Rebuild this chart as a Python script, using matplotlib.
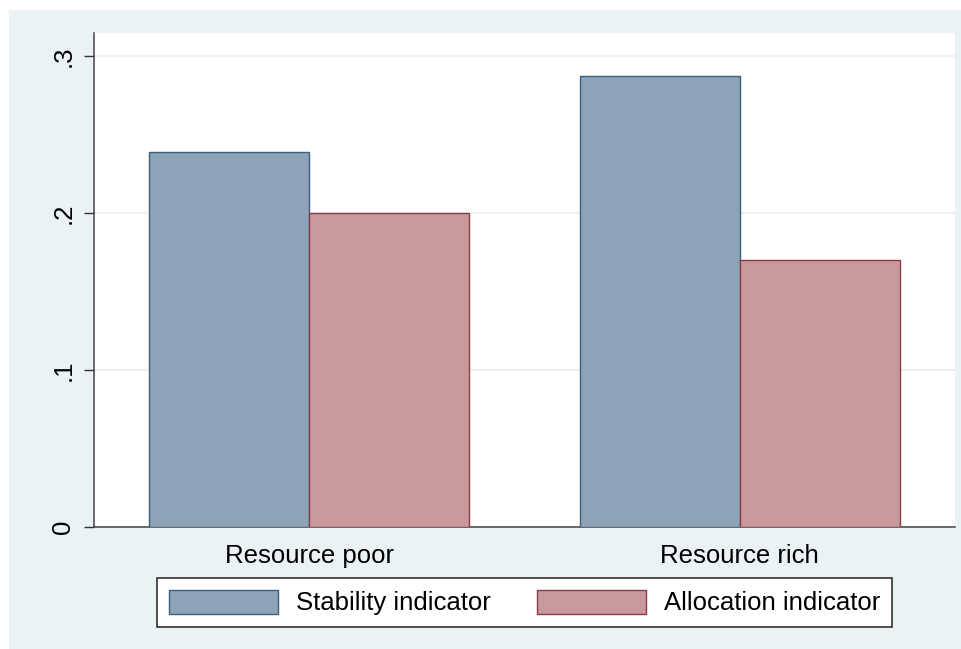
import matplotlib
matplotlib.use("Agg")
import matplotlib.pyplot as plt
import numpy as np
from matplotlib.patches import Rectangle, Patch

plt.rcParams["font.family"] = ["Liberation Sans", "DejaVu Sans"]

groups = ["Resource poor", "Resource rich"]
series = ["Stability indicator", "Allocation indicator"]
stability = [0.239, 0.287]
allocation = [0.200, 0.170]
yticks = [0, 0.1, 0.2, 0.3]
ytick_labels = ["0", ".1", ".2", ".3"]

BG = "#eaf2f3"
BLUE, BLUE_EDGE = "#8da3b7", "#3d5f80"
RED, RED_EDGE = "#c7999b", "#8e3a45"

W, H = 961, 649
FS = 18.5
fig = plt.figure(figsize=(W / 100, H / 100), dpi=100, facecolor="white")
fig.patches.append(Rectangle((9 / W, 0), 1 - 9 / W, 1 - 10 / H, transform=fig.transFigure,
                             facecolor=BG, edgecolor="none", zorder=-10))

ax = fig.add_axes([94 / W, 1 - 527 / H, (955 - 94) / W, (527 - 33) / H])
ax.set_facecolor("white")

x = np.arange(len(groups))
bw = 0.372
ax.bar(x - bw / 2, stability, bw, color=BLUE, edgecolor=BLUE_EDGE, linewidth=1.0, zorder=3)
ax.bar(x + bw / 2, allocation, bw, color=RED, edgecolor=RED_EDGE, linewidth=1.0, zorder=3)

ax.set_xlim(-0.5, 1.5)
ax.set_ylim(0, 0.3147)
ax.set_xticks(x)
ax.set_xticklabels(groups, fontsize=FS)
ax.tick_params(axis="x", length=0, pad=12)
ax.set_yticks(yticks)
ax.set_yticklabels(ytick_labels, fontsize=FS, rotation=90, va="center")
ax.tick_params(axis="y", length=7.5, width=1, color="#333333", pad=6)
ax.grid(axis="y", color=BG, linewidth=1.5, zorder=0)

for s in ["top", "right"]:
    ax.spines[s].set_visible(False)
for s in ["left", "bottom"]:
    ax.spines[s].set_color("#444444")
    ax.spines[s].set_linewidth(1.1)

px = FS * 100 / 72
handles = [Patch(facecolor=BLUE, edgecolor=BLUE_EDGE, linewidth=1.0),
           Patch(facecolor=RED, edgecolor=RED_EDGE, linewidth=1.0)]
leg = fig.legend(handles, series, ncol=2, loc="lower left",
                 bbox_to_anchor=(157 / W, 1 - 627 / H),
                 fontsize=FS, frameon=True, fancybox=False, framealpha=1,
                 facecolor="white", edgecolor="#222222",
                 handlelength=109 / px, handleheight=27 / px, handletextpad=18 / px,
                 columnspacing=47 / px, borderaxespad=0, borderpad=0.45)
leg.get_frame().set_linewidth(1.1)

fig.savefig("out.png", dpi=100, facecolor="white")
